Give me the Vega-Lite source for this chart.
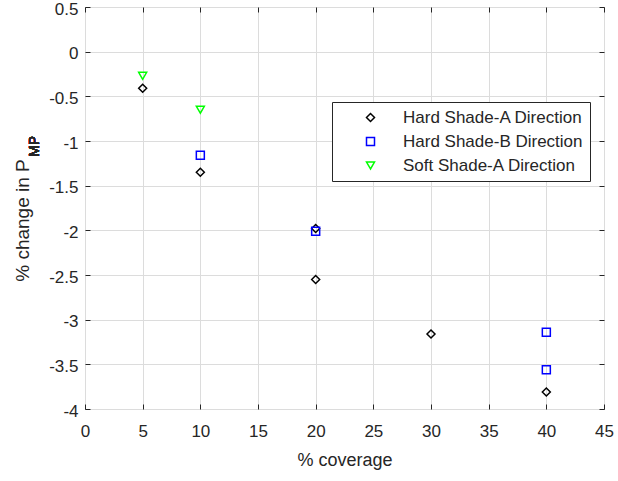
{
  "$schema": "https://vega.github.io/schema/vega-lite/v6.json",
  "width": 519,
  "height": 402,
  "autosize": {"type": "none"},
  "padding": {"left": 85, "top": 7, "right": 14, "bottom": 72},
  "background": "white",
  "config": {
    "font": "Liberation Sans",
    "view": {"stroke": "#262626", "strokeWidth": 1},
    "axis": {
      "domain": false,
      "grid": true,
      "gridColor": "#dcdcdc",
      "gridWidth": 1,
      "tickColor": "#262626",
      "tickSize": -5,
      "tickWidth": 1,
      "labelColor": "#262626",
      "labelFontSize": 17,
      "titleColor": "#262626",
      "titleFontSize": 18,
      "titleFontWeight": "normal",
      "labelFlush": false,
      "labelOverlap": false,
      "labelExpr": "'' + datum.value"
    }
  },
  "data": {
    "values": [
      {"coverage": 5, "change": -0.41, "series": "Hard Shade-A Direction"},
      {"coverage": 10, "change": -1.35, "series": "Hard Shade-A Direction"},
      {"coverage": 20, "change": -1.98, "series": "Hard Shade-A Direction"},
      {"coverage": 20, "change": -2.55, "series": "Hard Shade-A Direction"},
      {"coverage": 30, "change": -3.16, "series": "Hard Shade-A Direction"},
      {"coverage": 40, "change": -3.81, "series": "Hard Shade-A Direction"},
      {"coverage": 10, "change": -1.16, "series": "Hard Shade-B Direction"},
      {"coverage": 20, "change": -2.01, "series": "Hard Shade-B Direction"},
      {"coverage": 40, "change": -3.14, "series": "Hard Shade-B Direction"},
      {"coverage": 40, "change": -3.56, "series": "Hard Shade-B Direction"},
      {"coverage": 5, "change": -0.27, "series": "Soft Shade-A Direction"},
      {"coverage": 10, "change": -0.65, "series": "Soft Shade-A Direction"}
    ]
  },
  "layer": [
    {
      "mark": {"type": "point", "filled": false, "strokeWidth": 1.5, "size": 64, "opacity": 1},
      "encoding": {
        "x": {
          "field": "coverage", "type": "quantitative",
          "scale": {"domain": [0, 45], "nice": false},
          "axis": {"orient": "bottom", "values": [0,5,10,15,20,25,30,35,40,45], "title": "% coverage", "labelPadding": 19, "titlePadding": 12}
        },
        "y": {
          "field": "change", "type": "quantitative",
          "scale": {"domain": [-4, 0.5], "nice": false},
          "axis": {"orient": "left", "values": [-4,-3.5,-3,-2.5,-2,-1.5,-1,-0.5,0,0.5], "title": "% change in P", "labelPadding": 12, "labelOffset": 2, "titlePadding": 16, "titleFontSize": 19, "titleY": 213}
        },
        "shape": {
          "field": "series", "type": "nominal",
          "scale": {"domain": ["Hard Shade-A Direction", "Hard Shade-B Direction", "Soft Shade-A Direction"], "range": ["diamond", "square", "triangle-down"]},
          "legend": {
            "title": null, "orient": "none", "legendX": 247, "legendY": 95,
            "strokeColor": "#262626", "fillColor": "white", "padding": 7,
            "labelFontSize": 17, "labelColor": "#262626", "labelLimit": 400, "symbolSize": 64, "symbolStrokeWidth": 1.5,
            "rowPadding": 6, "labelOffset": 24, "symbolOffset": 23
          }
        },
        "color": {
          "field": "series", "type": "nominal",
          "scale": {"domain": ["Hard Shade-A Direction", "Hard Shade-B Direction", "Soft Shade-A Direction"], "range": ["#000000", "#0000ff", "#00ff00"]},
          "legend": {
            "title": null, "orient": "none", "legendX": 247, "legendY": 95,
            "strokeColor": "#262626", "fillColor": "white", "padding": 7,
            "labelFontSize": 17, "labelColor": "#262626", "labelLimit": 400, "symbolSize": 64, "symbolStrokeWidth": 1.5,
            "rowPadding": 6, "labelOffset": 24, "symbolOffset": 23
          }
        }
      }
    },
    {
      "mark": {"type": "point", "opacity": 0},
      "encoding": {
        "x": {"field": "coverage", "type": "quantitative", "axis": {"orient": "top", "values": [0,5,10,15,20,25,30,35,40,45], "labels": false, "grid": false, "title": null}},
        "y": {"field": "change", "type": "quantitative", "axis": {"orient": "right", "values": [-4,-3.5,-3,-2.5,-2,-1.5,-1,-0.5,0,0.5], "labels": false, "grid": false, "title": null}}
      }
    },
    {
      "mark": {"type": "text", "angle": 270, "fontSize": 14, "fontWeight": "normal", "color": "#262626", "align": "center", "baseline": "top"},
      "encoding": {
        "x": {"datum": -4.95, "type": "quantitative", "axis": null},
        "y": {"datum": -1.06, "type": "quantitative", "axis": null},
        "text": {"value": "MP"}
      }
    }
  ],
  "resolve": {"axis": {"x": "independent", "y": "independent"}}
}
